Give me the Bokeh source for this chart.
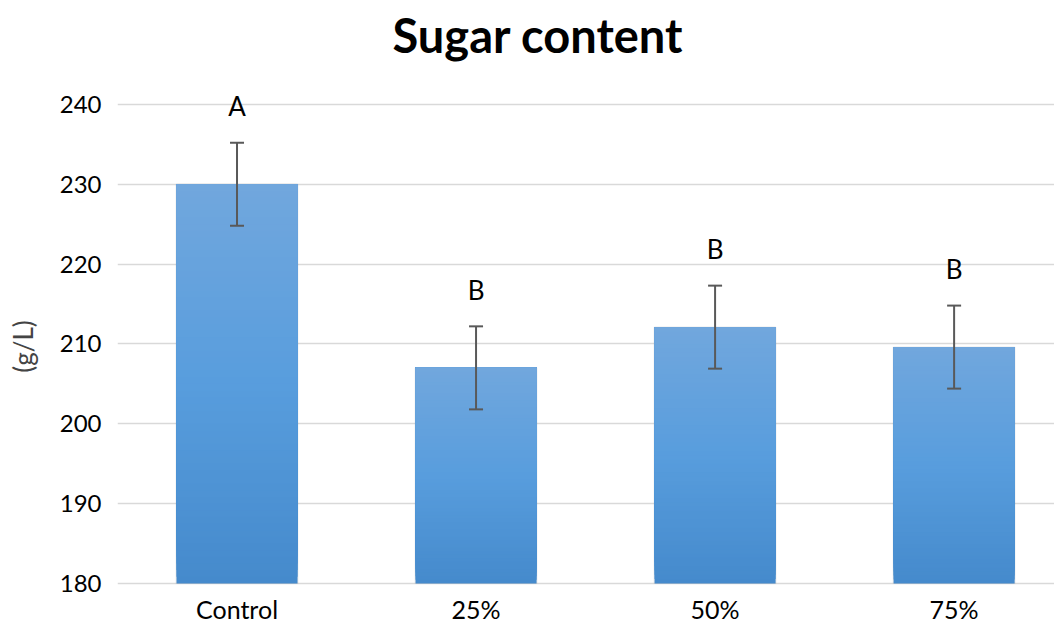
import numpy as np
from bokeh.plotting import figure
from bokeh.models import Range1d, FixedTicker, Whisker, ColumnDataSource, LabelSet
from bokeh.core.properties import value
from bokeh.embed import file_html
from bokeh.resources import INLINE

categories = ["Control", "25%", "50%", "75%"]
values = [230.0, 207.0, 212.1, 209.6]
errors = [5.2, 5.2, 5.2, 5.2]
letters = ["A", "B", "B", "B"]
y_ticks = [180, 190, 200, 210, 220, 230, 240]

FONT = "Lato"
x = [i + 0.5 for i in range(len(categories))]
base = 180

p = figure(width=1054, height=626, output_backend="svg", toolbar_location=None,
           x_range=Range1d(0, 3.92), y_range=Range1d(174.6, 244.75),
           min_border_left=117, min_border_right=0, min_border_bottom=0,
           title="Sugar content")
p.outline_line_color = None
p.title.align = "left"
p.title.offset = 275
p.title.text_font = FONT
p.title.text_font_size = "47px"
p.title.text_font_style = "bold"
p.title.text_color = "#000000"
p.title.standoff = 8

# shadow
p.vbar(x=x, top=values, bottom=base, width=0.515, fill_color="#000000", fill_alpha=0.06, line_color=None)
p.vbar(x=x, top=[v + 0.08 for v in values], bottom=base, width=0.508, fill_color="#000000", fill_alpha=0.08, line_color=None)

# gradient bars (each slice drawn from its bottom to the bar top; later slices cover earlier)
top_c = np.array([0x71, 0xa7, 0xdd])
mid_c = np.array([0x58, 0x9d, 0xdd])
bot_c = np.array([0x45, 0x8a, 0xcc])
N = 60
xs, tops, bots, cols = [], [], [], []
for xi, v in zip(x, values):
    edges = np.linspace(base, v, N + 1)
    for k in range(N):
        f = (k + 0.5) / N
        if f < 0.5:
            c = bot_c + (mid_c - bot_c) * (f / 0.5)
        else:
            c = mid_c + (top_c - mid_c) * ((f - 0.5) / 0.5)
        xs.append(xi)
        bots.append(edges[k])
        tops.append(v)
        cols.append("#%02x%02x%02x" % tuple(int(round(a)) for a in c))
p.vbar(x=xs, top=tops, bottom=bots, width=0.506, fill_color=cols, line_color=None)

src = ColumnDataSource(dict(x=x, upper=[v + e for v, e in zip(values, errors)],
                            lower=[v - e for v, e in zip(values, errors)],
                            lab=letters,
                            ly=[v + e + 4.6 for v, e in zip(values, errors)]))
w = Whisker(source=src, base="x", upper="upper", lower="lower", line_color="#595959",
            line_width=2, level="overlay")
for h in (w.upper_head, w.lower_head):
    h.size = 14
    h.line_color = "#595959"
    h.line_width = 2
p.add_layout(w)

p.add_layout(LabelSet(source=src, x="x", y="ly", text="lab", text_align="center",
                      text_baseline="middle", text_font_size="26px", text_font=value(FONT),
                      text_color="#000000"))

# category labels below the baseline
cat_src = ColumnDataSource(dict(x=x, cat=categories, y=[base] * len(x)))
p.add_layout(LabelSet(source=cat_src, x="x", y="y", text="cat", y_offset=-26,
                      text_align="center", text_baseline="middle", text_font_size="25px",
                      text_font=value(FONT), text_color="#000000"))

p.xaxis.visible = False
p.yaxis.ticker = FixedTicker(ticks=y_ticks)
p.yaxis.major_tick_line_color = None
p.yaxis.minor_tick_line_color = None
p.yaxis.major_tick_out = 0
p.yaxis.major_tick_in = 0
p.yaxis.major_label_text_font = FONT
p.yaxis.major_label_text_color = "#000000"
p.yaxis.major_label_text_font_size = "24px"
p.yaxis.axis_line_color = None
p.yaxis.major_label_standoff = 16
p.yaxis.axis_label = "(g/L)"
p.yaxis.axis_label_text_font = FONT
p.yaxis.axis_label_text_font_size = "26px"
p.yaxis.axis_label_text_font_style = "normal"
p.yaxis.axis_label_standoff = 18
p.xgrid.grid_line_color = None
p.ygrid.grid_line_color = "#d9d9d9"
p.ygrid.grid_line_width = 1.5

open("out.html", "w").write(file_html(p, INLINE))
